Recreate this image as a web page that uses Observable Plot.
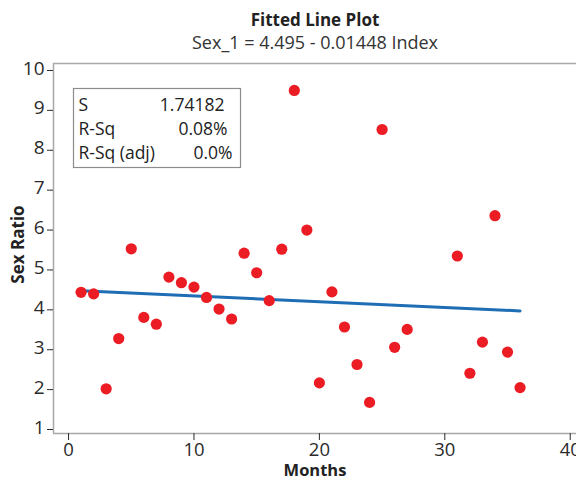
<!DOCTYPE html>
<html>
<head>
<meta charset="utf-8">
<script src="https://cdn.jsdelivr.net/npm/d3@7"></script>
<script src="https://cdn.jsdelivr.net/npm/@observablehq/plot@0.6"></script>
<style>
  html, body { margin: 0; padding: 0; background: #fff; }
</style>
</head>
<body>
<div id="chart"></div>
<script>
// ---- Data ----
const months = [1, 2, 3, 4, 5, 6, 7, 8, 9, 10, 11, 12, 13, 14, 15, 16, 17, 18, 19, 20,
                21, 22, 23, 24, 25, 26, 27, 31, 32, 33, 34, 35, 36];
const sexRatio = [4.44, 4.40, 2.02, 3.28, 5.53, 3.81, 3.64, 4.82, 4.68, 4.57,
                  4.31, 4.02, 3.77, 5.42, 4.93, 4.23, 5.52, 9.50, 6.00, 2.17,
                  4.45, 3.57, 2.63, 1.68, 8.52, 3.06, 3.51, 5.35, 2.41, 3.19,
                  6.36, 2.94, 2.05];
const intercept = 4.495;
const slope = -0.01448;
const xTicks = [0, 10, 20, 30, 40];
const yTicks = [1, 2, 3, 4, 5, 6, 7, 8, 9, 10];
const statLabels = ["S", "R-Sq", "R-Sq (adj)"];
const statValues = ["1.74182", "0.08%", "0.0%"];
const titleText = "Fitted Line Plot";
const subtitleText = "Sex_1 = 4.495 - 0.01448 Index";
const xLabel = "Months";
const yLabel = "Sex Ratio";

// ---- Derived tables ----
const points = months.map((m, i) => ({month: m, ratio: sexRatio[i]}));
const xMin = d3.min(months), xMax = d3.max(months);
const fit = [xMin, xMax].map(m => ({month: m, ratio: intercept + slope * m}));

const xDomain = [-1.2, 40.5];
const yDomain = [0.9, 10.175];
const FONT = "'Open Sans', 'Noto Sans', sans-serif";
const INK = "#2b2b2b";

// layout (pixel offsets within the frame) for the statistics box
const rowDy = [35, 59, 83];
const valueDx = [171, 174, 179];

const statBox = () => {
  const r = d3.create("svg:rect")
    .attr("x", 73.5).attr("y", 88.5)
    .attr("width", 167).attr("height", 79)
    .attr("fill", "none").attr("stroke", "#8c8c8c").attr("stroke-width", 1.2);
  return r.node();
};

const statMarks = statLabels.flatMap((lab, i) => [
  Plot.text([lab], {frameAnchor: "top-left", textAnchor: "start", lineAnchor: "top",
    dx: 25, dy: rowDy[i], fontSize: 17.5, fill: "#222"}),
  Plot.text([statValues[i]], {frameAnchor: "top-left", textAnchor: "end", lineAnchor: "top",
    dx: valueDx[i], dy: rowDy[i], fontSize: 17.5, fill: "#222"})
]);

const chart = Plot.plot({
  width: 576,
  height: 481,
  marginLeft: 53,
  marginRight: 0,
  marginTop: 63,
  marginBottom: 48,
  style: {fontFamily: FONT, fontSize: "18px", color: INK, background: "#fff", overflow: "visible"},
  x: {domain: xDomain, axis: null},
  y: {domain: yDomain, axis: null},
  marks: [
    Plot.ruleX([xDomain[0]], {stroke: "#a8a8a8", strokeWidth: 1.5}),
    Plot.ruleY([yDomain[0], yDomain[1]], {stroke: "#a8a8a8", strokeWidth: 1.5}),
    // tick marks only (labels drawn as text marks below)
    Plot.axisX(xTicks, {tickSize: 7, tickFormat: () => "", label: null, stroke: INK}),
    Plot.axisY(yTicks, {tickSize: 6, tickFormat: () => "", label: null, stroke: INK}),
    Plot.text(xTicks, {x: d => d, frameAnchor: "bottom", lineAnchor: "middle", dy: 17,
      text: d => String(d), fontSize: 18.5, fill: INK}),
    Plot.text(yTicks, {y: d => d, frameAnchor: "left", textAnchor: "end", lineAnchor: "middle", dx: -9, dy: -2,
      text: d => String(d), fontSize: 19, fill: INK}),
    statBox,
    ...statMarks,
    Plot.line(fit, {x: "month", y: "ratio", stroke: "#1f6db5", strokeWidth: 3}),
    Plot.dot(points, {x: "month", y: "ratio", r: 5.6, fill: "#ec1c24", stroke: "none"}),
    Plot.text([titleText], {frameAnchor: "top", lineAnchor: "middle", dy: -43, fontWeight: "bold", fontSize: 17, fill: "#222"}),
    Plot.text([subtitleText], {frameAnchor: "top", lineAnchor: "middle", dy: -20, fontSize: 18, fill: "#333"}),
    Plot.text([xLabel], {frameAnchor: "bottom", lineAnchor: "middle", dy: 37, fontWeight: "bold", fontSize: 16.5, fill: "#222"}),
    Plot.text([yLabel], {frameAnchor: "left", lineAnchor: "middle", textAnchor: "middle", rotate: -90, dx: -35, dy: -4, fontWeight: "bold", fontSize: 17, fill: "#222"})
  ]
});

document.getElementById("chart").appendChild(chart);
</script>
</body>
</html>
